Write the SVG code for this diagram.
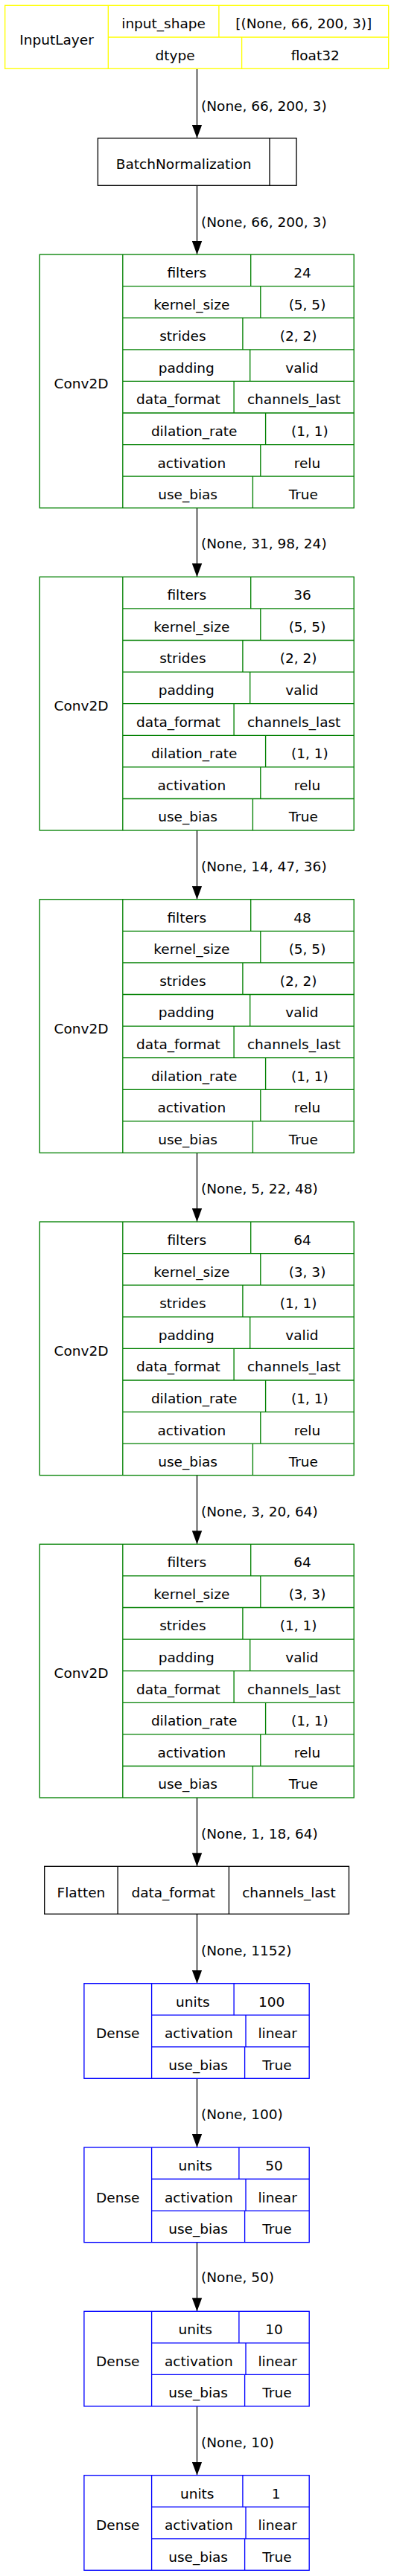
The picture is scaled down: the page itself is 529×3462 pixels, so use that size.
<svg xmlns="http://www.w3.org/2000/svg" width="529" height="3462" viewBox="0 0 529 3462">
<style>
text{font-family:"DejaVu Sans","Liberation Sans",sans-serif;font-size:18.5px;fill:#000;text-anchor:middle}
text.el{text-anchor:start}
.y{fill:#fff;stroke:#ffff00;stroke-width:1.33}
.g{fill:#fff;stroke:#008000;stroke-width:1.33}
.b{fill:#fff;stroke:#0000ff;stroke-width:1.33}
.k{fill:#fff;stroke:#000;stroke-width:1.33}
.ly{stroke:#ffff00;stroke-width:1.33}
.lg{stroke:#008000;stroke-width:1.33}
.lb{stroke:#0000ff;stroke-width:1.33}
.lk{stroke:#000;stroke-width:1.33}
.edge{stroke:#000;stroke-width:1.33;fill:none;marker-end:url(#arr)}
</style>
<defs>
<marker id="arr" markerUnits="userSpaceOnUse" markerWidth="18" markerHeight="14" viewBox="0 0 18 14" refX="18" refY="7" orient="auto">
<path d="M0,0.3 L18,7 L0,13.7 z" fill="#000"/>
</marker>
</defs>
<rect width="529" height="3462" fill="#fff"/>

<g id="connectors">
<path class="edge" d="M264.5,92.3 V185.7"/>
<text class="el" x="270" y="149.3">(None, 66, 200, 3)</text>
<path class="edge" d="M264.5,249.3 V342"/>
<text class="el" x="270" y="305">(None, 66, 200, 3)</text>
<path class="edge" d="M264.5,682.7 V775.3"/>
<text class="el" x="270" y="737">(None, 31, 98, 24)</text>
<path class="edge" d="M264.5,1116 V1208.7"/>
<text class="el" x="270" y="1170.7">(None, 14, 47, 36)</text>
<path class="edge" d="M264.5,1549.4 V1642"/>
<text class="el" x="270" y="1604.3">(None, 5, 22, 48)</text>
<path class="edge" d="M264.5,1982.7 V2075.3"/>
<text class="el" x="270" y="2037.7">(None, 3, 20, 64)</text>
<path class="edge" d="M264.5,2416 V2508.3"/>
<text class="el" x="270" y="2470.7">(None, 1, 18, 64)</text>
<path class="edge" d="M264.5,2572.3 V2665.7"/>
<text class="el" x="270" y="2628.3">(None, 1152)</text>
<path class="edge" d="M264.5,2793.3 V2886"/>
<text class="el" x="270" y="2847.7">(None, 100)</text>
<path class="edge" d="M264.5,3013.6 V3106.3"/>
<text class="el" x="270" y="3067.3">(None, 50)</text>
<path class="edge" d="M264.5,3233.9 V3326.7"/>
<text class="el" x="270" y="3289">(None, 10)</text>
</g>

<g id="input_layer">
<rect class="y" x="6.7" y="7.3" width="515" height="85"/>
<path class="ly" d="M145.3,7.3 V92.3 M145.3,50 H521.7 M293.9,7.3 V50 M324.6,50 V92.3"/>
<text x="76" y="59.5">InputLayer</text>
<text x="219.6" y="38.3">input_shape</text>
<text x="407.8" y="38.3">[(None, 66, 200, 3)]</text>
<text x="235" y="80.9">dtype</text>
<text x="423.2" y="80.9">float32</text>
</g>

<g id="batch_normalization">
<rect class="k" x="131.4" y="185.7" width="266.6" height="63.6"/>
<path class="lk" d="M362,185.7 V249.3"/>
<text x="246.7" y="227.2">BatchNormalization</text>
</g>

<defs>
<g id="convgrid">
<rect class="g" x="53.3" y="0" width="421.9" height="340.7"/>
<path class="lg" d="M164.8,0 V340.7 M164.8,42.6 H475.2 M164.8,85.2 H475.2 M164.8,127.8 H475.2 M164.8,170.4 H475.2 M164.8,213 H475.2 M164.8,255.6 H475.2 M164.8,298.2 H475.2 M336.7,0 V42.6 M349.8,42.6 V85.2 M325.9,85.2 V127.8 M335.7,127.8 V170.4 M314.1,170.4 V213 M356.6,213 V255.6 M349.8,255.6 V298.2 M339.4,298.2 V340.7"/>
<text x="109" y="180">Conv2D</text>
<text x="250.75" y="31">filters</text>
<text x="257.3" y="73.6">kernel_size</text>
<text x="245.35" y="116.2">strides</text>
<text x="250.25" y="158.8">padding</text>
<text x="239.45" y="201.4">data_format</text>
<text x="260.7" y="244">dilation_rate</text>
<text x="257.3" y="286.6">activation</text>
<text x="252.1" y="329.2">use_bias</text>
<text x="405.45" y="158.8">valid</text>
<text x="394.65" y="201.4">channels_last</text>
<text x="415.9" y="244">(1, 1)</text>
<text x="412.5" y="286.6">relu</text>
<text x="407.3" y="329.2">True</text>
</g>
</defs>

<g id="conv2d_1" transform="translate(0,342)">
<use href="#convgrid"/>
<text x="405.95" y="31">24</text>
<text x="412.5" y="73.6">(5, 5)</text>
<text x="400.55" y="116.2">(2, 2)</text>
</g>
<g id="conv2d_2" transform="translate(0,775.3)">
<use href="#convgrid"/>
<text x="405.95" y="31">36</text>
<text x="412.5" y="73.6">(5, 5)</text>
<text x="400.55" y="116.2">(2, 2)</text>
</g>
<g id="conv2d_3" transform="translate(0,1208.7)">
<use href="#convgrid"/>
<text x="405.95" y="31">48</text>
<text x="412.5" y="73.6">(5, 5)</text>
<text x="400.55" y="116.2">(2, 2)</text>
</g>
<g id="conv2d_4" transform="translate(0,1642)">
<use href="#convgrid"/>
<text x="405.95" y="31">64</text>
<text x="412.5" y="73.6">(3, 3)</text>
<text x="400.55" y="116.2">(1, 1)</text>
</g>
<g id="conv2d_5" transform="translate(0,2075.3)">
<use href="#convgrid"/>
<text x="405.95" y="31">64</text>
<text x="412.5" y="73.6">(3, 3)</text>
<text x="400.55" y="116.2">(1, 1)</text>
</g>

<g id="flatten">
<rect class="k" x="59.7" y="2508.3" width="408.8" height="64"/>
<path class="lk" d="M158.1,2508.3 V2572.3 M307.4,2508.3 V2572.3"/>
<text x="108.9" y="2550">Flatten</text>
<text x="232.75" y="2550">data_format</text>
<text x="387.95" y="2550">channels_last</text>
</g>

<defs>
<g id="densegrid">
<rect class="b" x="112.9" y="0" width="302.3" height="127.6"/>
<path class="lb" d="M203.6,0 V127.6 M203.6,42.5 H415.2 M203.6,85.1 H415.2 M330,42.5 V85.1 M328.6,85.1 V127.6"/>
<text x="158.25" y="73.5">Dense</text>
<text x="266.8" y="73.5">activation</text>
<text x="372.6" y="73.5">linear</text>
<text x="266.1" y="116">use_bias</text>
<text x="371.9" y="116">True</text>
</g>
</defs>

<g id="dense_1" transform="translate(0,2665.7)">
<use href="#densegrid"/>
<path class="lb" d="M314.1,0 V42.5"/>
<text x="258.85" y="31">units</text>
<text x="364.65" y="31">100</text>
</g>
<g id="dense_2" transform="translate(0,2886)">
<use href="#densegrid"/>
<path class="lb" d="M320.9,0 V42.5"/>
<text x="262.25" y="31">units</text>
<text x="368.05" y="31">50</text>
</g>
<g id="dense_3" transform="translate(0,3106.3)">
<use href="#densegrid"/>
<path class="lb" d="M320.9,0 V42.5"/>
<text x="262.25" y="31">units</text>
<text x="368.05" y="31">10</text>
</g>
<g id="dense_4" transform="translate(0,3326.7)">
<use href="#densegrid"/>
<path class="lb" d="M325.9,0 V42.5"/>
<text x="264.75" y="31">units</text>
<text x="370.55" y="31">1</text>
</g>
</svg>
